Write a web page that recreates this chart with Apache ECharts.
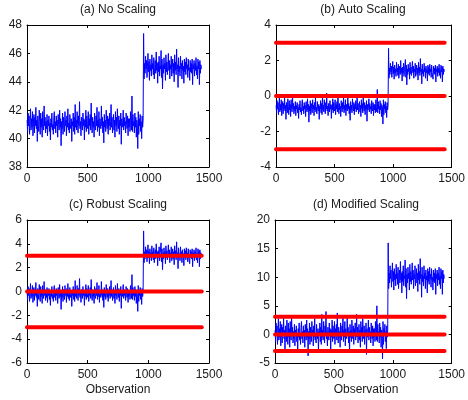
<!DOCTYPE html>
<html>
<head>
<meta charset="utf-8">
<script src="https://cdn.jsdelivr.net/npm/echarts@6/dist/echarts.min.js"></script>
<style>
  html, body { margin: 0; padding: 0; background: #fff; }
  #chart { width: 468px; height: 400px; }
</style>
</head>
<body>
<div id="chart"></div>
<script>
const obsStep = 4
const seg1Start = 1
const seg1 = [
  41.3, 40.5, 41.8, 40.9, 41.6, 40.3, 41.2, 42.1, 40.6, 41.4, 40.8, 41.9, 40.2, 41.1, 41.7, 40.4, 41.5, 40.9, 42.2, 40.7,
  41.3, 39.8, 41.6, 41.0, 40.5, 42.0, 41.2, 40.3, 41.8, 40.8, 41.4, 40.1, 41.9, 41.0, 40.6, 42.3, 40.9, 41.5, 40.4, 41.2,
  40.7, 41.7, 40.2, 41.3, 40.9, 41.6, 40.5, 41.1, 39.9, 41.4, 40.8, 41.8, 40.6, 41.0, 40.3, 41.5, 41.9, 40.7, 41.2, 40.4,
  41.6, 40.9, 41.3, 40.1, 41.7, 41.0, 40.6, 42.0, 40.8, 41.4, 39.5, 41.2, 40.7, 41.8, 40.3, 41.5, 41.0, 40.5, 41.9, 40.9,
  41.3, 40.2, 41.6, 40.8, 42.1, 40.6, 41.1, 40.4, 41.7, 41.0, 40.7, 41.4, 39.8, 41.2, 40.9, 41.8, 40.5, 41.5, 40.3, 42.4,
  40.8, 41.3, 40.6, 41.9, 41.0, 40.4, 41.6, 40.9, 42.6, 40.7, 41.2, 40.2, 41.5, 41.1, 40.6, 41.8, 40.9, 41.4, 39.9, 41.3,
  40.8, 42.0, 40.5, 41.6, 41.0, 40.7, 41.9, 40.3, 41.4, 40.9, 41.7, 40.6, 42.5, 41.1, 40.4, 41.5, 40.8, 41.2, 40.1, 41.8,
  41.0, 40.6, 41.6, 40.9, 42.2, 40.5, 41.3, 40.8, 41.9, 40.2, 41.4, 41.0, 40.7, 42.3, 40.9, 41.5, 40.4, 41.2, 39.7, 41.7,
  40.8, 41.3, 40.5, 42.0, 41.1, 40.7, 41.6, 40.3, 41.4, 40.9, 41.8, 40.6, 41.2, 42.4, 40.8, 41.5, 40.4, 41.0, 41.7, 40.6,
  41.3, 40.1, 41.9, 40.9, 41.5, 40.5, 42.1, 41.0, 40.7, 41.6, 40.3, 41.3, 40.9, 41.8, 39.6, 41.4, 40.8, 41.1, 42.0, 40.6,
  41.5, 40.9, 41.2, 40.4, 41.8, 41.0, 40.7, 41.6, 40.2, 41.4, 40.8, 41.4, 40.5, 41.9, 41.1, 40.6, 43.0, 40.5, 41.7, 40.9,
  41.2, 40.4, 41.8, 40.8, 41.5, 40.1, 41.3, 41.0, 39.3, 41.9, 40.3, 41.4, 40.9, 41.7, 40.5, 41.2, 40.0, 41.6, 40.8, 41.3
]
const seg2Start = 961
const seg2 = [
  47.4, 44.2, 45.3, 44.6, 45.8, 44.9, 45.5, 44.3, 45.1, 46.0, 44.7, 45.4, 44.1, 45.6, 44.8, 45.2, 44.4, 45.9, 44.9, 45.3,
  44.5, 45.7, 44.2, 45.0, 45.5, 44.6, 46.1, 44.8, 45.3, 43.9, 45.4, 44.7, 45.8, 44.4, 45.1, 44.9, 46.2, 44.3, 45.6, 43.5,
  45.2, 44.6, 45.7, 44.9, 45.3, 44.1, 45.9, 44.7, 45.4, 44.5, 45.1, 46.0, 44.8, 45.5, 44.2, 45.2, 44.9, 45.8, 44.4, 45.0,
  45.6, 44.6, 45.3, 44.0, 45.9, 44.8, 45.4, 44.5, 46.3, 44.9, 45.2, 43.6, 45.7, 44.7, 45.1, 44.4, 45.8, 44.9, 45.3, 44.2,
  45.5, 44.8, 45.1, 43.9, 45.6, 44.7, 45.4, 44.5, 45.7, 44.9, 45.2, 44.3, 45.6, 44.8, 45.0, 44.1, 45.5, 44.7, 45.3, 44.6,
  45.6, 43.8, 45.2, 44.9, 45.5, 44.4, 45.3, 44.8, 45.7, 44.5, 45.1, 44.2, 45.6, 44.9, 45.4, 43.8, 45.5, 44.6, 45.2, 44.9
]

// panel settings: (value - center) / scale
const titles = ['(a) No Scaling', '(b) Auto Scaling', '(c) Robust Scaling', '(d) Modified Scaling']
const centers = [0, 42.3, 41.3, 41.0]
const scales = [1, 1.9, 1.2, 0.4]
const limitLines = [[], [3, 0, -3], [3, 0, -3], [3.1, 0, -2.9]]
const limitEnd = 1440
const yTicks = [[38, 48, 2], [-4, 4, 2], [-6, 6, 2], [-5, 20, 5]] // min, max, interval
const xTicks = [0, 1500, 500]

const grids = [
  { left: 27, top: 25, width: 182, height: 142 },
  { left: 276, top: 25, width: 181, height: 142 },
  { left: 27, top: 220, width: 182, height: 143 },
  { left: 275, top: 220, width: 182, height: 143 }
]

const font = 'Liberation Sans, Arial, sans-serif'
const txt = '#1a1a1a'

function scaled (k) {
  const pts = []
  seg1.forEach((v, i) => pts.push([seg1Start + i * obsStep, (v - centers[k]) / scales[k]]))
  seg2.forEach((v, i) => pts.push([seg2Start + i * obsStep, (v - centers[k]) / scales[k]]))
  return pts
}

const xAxis = []
const yAxis = []
const series = []
grids.forEach((g, k) => {
  const common = {
    gridIndex: k,
    type: 'value',
    splitLine: { show: false },
    axisLine: { show: true, onZero: false, lineStyle: { color: '#000', width: 1 } },
    axisTick: { show: true, inside: true, length: 3, lineStyle: { color: '#000' } }
  }
  xAxis.push(Object.assign({}, common, {
    position: 'bottom', min: xTicks[0], max: xTicks[1], interval: xTicks[2],
    axisLabel: { color: txt, fontSize: 12, fontFamily: font, margin: 6, formatter: v => String(v) }
  }))
  xAxis.push(Object.assign({}, common, {
    position: 'top', min: xTicks[0], max: xTicks[1], interval: xTicks[2],
    axisLabel: { show: false }
  }))
  yAxis.push(Object.assign({}, common, {
    position: 'left', min: yTicks[k][0], max: yTicks[k][1], interval: yTicks[k][2],
    axisLabel: { color: txt, fontSize: 12, fontFamily: font, margin: 5, formatter: v => String(v) }
  }))
  yAxis.push(Object.assign({}, common, {
    position: 'right', min: yTicks[k][0], max: yTicks[k][1], interval: yTicks[k][2],
    axisLabel: { show: false }
  }))
  series.push({
    type: 'line',
    xAxisIndex: k * 2,
    yAxisIndex: k * 2,
    data: scaled(k),
    showSymbol: false,
    symbol: 'none',
    lineStyle: { color: '#0000ff', width: 1 },
    z: 2
  })
  limitLines[k].forEach(v => {
    series.push({
      type: 'line',
      xAxisIndex: k * 2,
      yAxisIndex: k * 2,
      data: [[0, v], [limitEnd, v]],
      symbol: 'none',
      lineStyle: { color: '#ff0000', width: 4, cap: 'round' },
      z: 3
    })
  })
})

const chart = echarts.init(document.getElementById('chart'))
chart.setOption({
  animation: false,
  backgroundColor: '#fff',
  title: [
    { text: titles[0], left: 118, top: 4 },
    { text: titles[1], left: 363, top: 4 },
    { text: titles[2], left: 118, top: 199 },
    { text: titles[3], left: 366, top: 199 },
    { text: 'Observation', left: 118, top: 384 },
    { text: 'Observation', left: 366, top: 384 }
  ].map(t => Object.assign(t, {
    textAlign: 'center',
    padding: 0,
    textStyle: { fontSize: 12, fontWeight: 'normal', color: txt, fontFamily: font }
  })),
  grid: grids,
  xAxis: xAxis,
  yAxis: yAxis,
  series: series
})
</script>
</body>
</html>
